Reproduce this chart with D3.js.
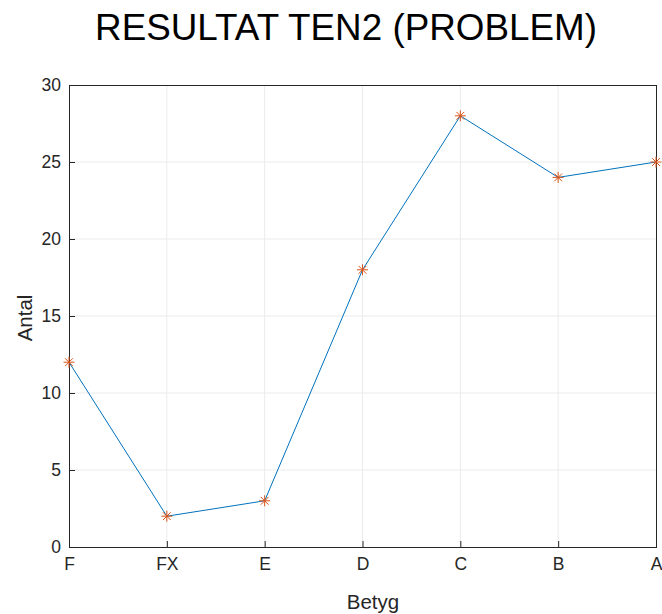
<!DOCTYPE html>
<html>
<head>
<meta charset="utf-8">
<script src="https://cdn.jsdelivr.net/npm/d3@7"></script>
<style>
  body { margin: 0; background: #fff; }
  svg text { font-family: "Liberation Sans", Arial, sans-serif; }
  .axis text { fill: #262626; font-size: 17.5px; }
</style>
</head>
<body>
<div id="chart"></div>
<script>
const categories = ['F', 'FX', 'E', 'D', 'C', 'B', 'A'];
const counts = [12, 2, 3, 18, 28, 24, 25];
const yTicks = [0, 5, 10, 15, 20, 25, 30];

const W = 662, H = 614;
const m = { left: 69, right: 6, top: 85, bottom: 67 };
const width = W - m.left - m.right, height = H - m.top - m.bottom;

const svg = d3.select('#chart').append('svg').attr('width', W).attr('height', H);
const g = svg.append('g').attr('transform', `translate(${m.left},${m.top})`);

const x = d3.scalePoint().domain(categories).range([0, width]);
const y = d3.scaleLinear().domain([0, 30]).range([height, 0]);

// grid
g.append('g').selectAll('line').data(categories.slice(1, -1)).enter().append('line')
  .attr('x1', d => x(d)).attr('x2', d => x(d)).attr('y1', 0).attr('y2', height)
  .attr('stroke', '#ebebeb').attr('stroke-width', 1);
g.append('g').selectAll('line').data(yTicks.slice(1, -1)).enter().append('line')
  .attr('y1', d => y(d)).attr('y2', d => y(d)).attr('x1', 0).attr('x2', width)
  .attr('stroke', '#ebebeb').attr('stroke-width', 1);

// box
g.append('rect').attr('width', width).attr('height', height)
  .attr('fill', 'none').attr('stroke', '#262626').attr('stroke-width', 1).attr('shape-rendering', 'crispEdges');

// axes (inward ticks)
const xa = g.append('g').attr('class', 'axis').attr('transform', `translate(0,${height})`)
  .call(d3.axisBottom(x).tickSizeInner(-6).tickSizeOuter(0).tickPadding(11));
const ya = g.append('g').attr('class', 'axis')
  .call(d3.axisLeft(y).tickValues(yTicks).tickSizeInner(-6).tickSizeOuter(0).tickPadding(8));
[xa, ya].forEach(a => {
  a.attr('font-family', null);
  a.select('.domain').attr('stroke', '#262626');
  a.selectAll('.tick line').attr('stroke', '#262626');
});

// line
g.append('path').datum(counts)
  .attr('fill', 'none').attr('stroke', '#0072BD').attr('stroke-width', 1)
  .attr('d', d3.line().x((d, i) => x(categories[i])).y(d => y(d)));

// asterisk markers
const r = 5.5;
const mk = g.append('g').selectAll('g').data(counts).enter().append('g')
  .attr('transform', (d, i) => `translate(${x(categories[i])},${y(d)})`);
[0, 45, 90, 135].forEach(a => {
  const rad = a * Math.PI / 180;
  mk.append('line')
    .attr('x1', -r * Math.cos(rad)).attr('y1', -r * Math.sin(rad))
    .attr('x2', r * Math.cos(rad)).attr('y2', r * Math.sin(rad))
    .attr('stroke', '#D95319').attr('stroke-width', 1);
});

// titles
const title = svg.append('text').attr('x', 346).attr('y', 40).attr('text-anchor', 'middle')
  .attr('font-size', 31).attr('fill', '#000').text('RESULTAT TEN2 (PROBLEM)');
const tw = title.node().getComputedTextLength();
title.attr('font-size', 31 * 502 / tw);
svg.append('text').attr('x', 373).attr('y', 609).attr('text-anchor', 'middle')
  .attr('font-size', 20.5).attr('fill', '#262626').text('Betyg');
svg.append('text').attr('transform', `translate(32,318) rotate(-90)`)
  .attr('text-anchor', 'middle').attr('font-size', 20.5).attr('fill', '#262626').text('Antal');
</script>
</body>
</html>
